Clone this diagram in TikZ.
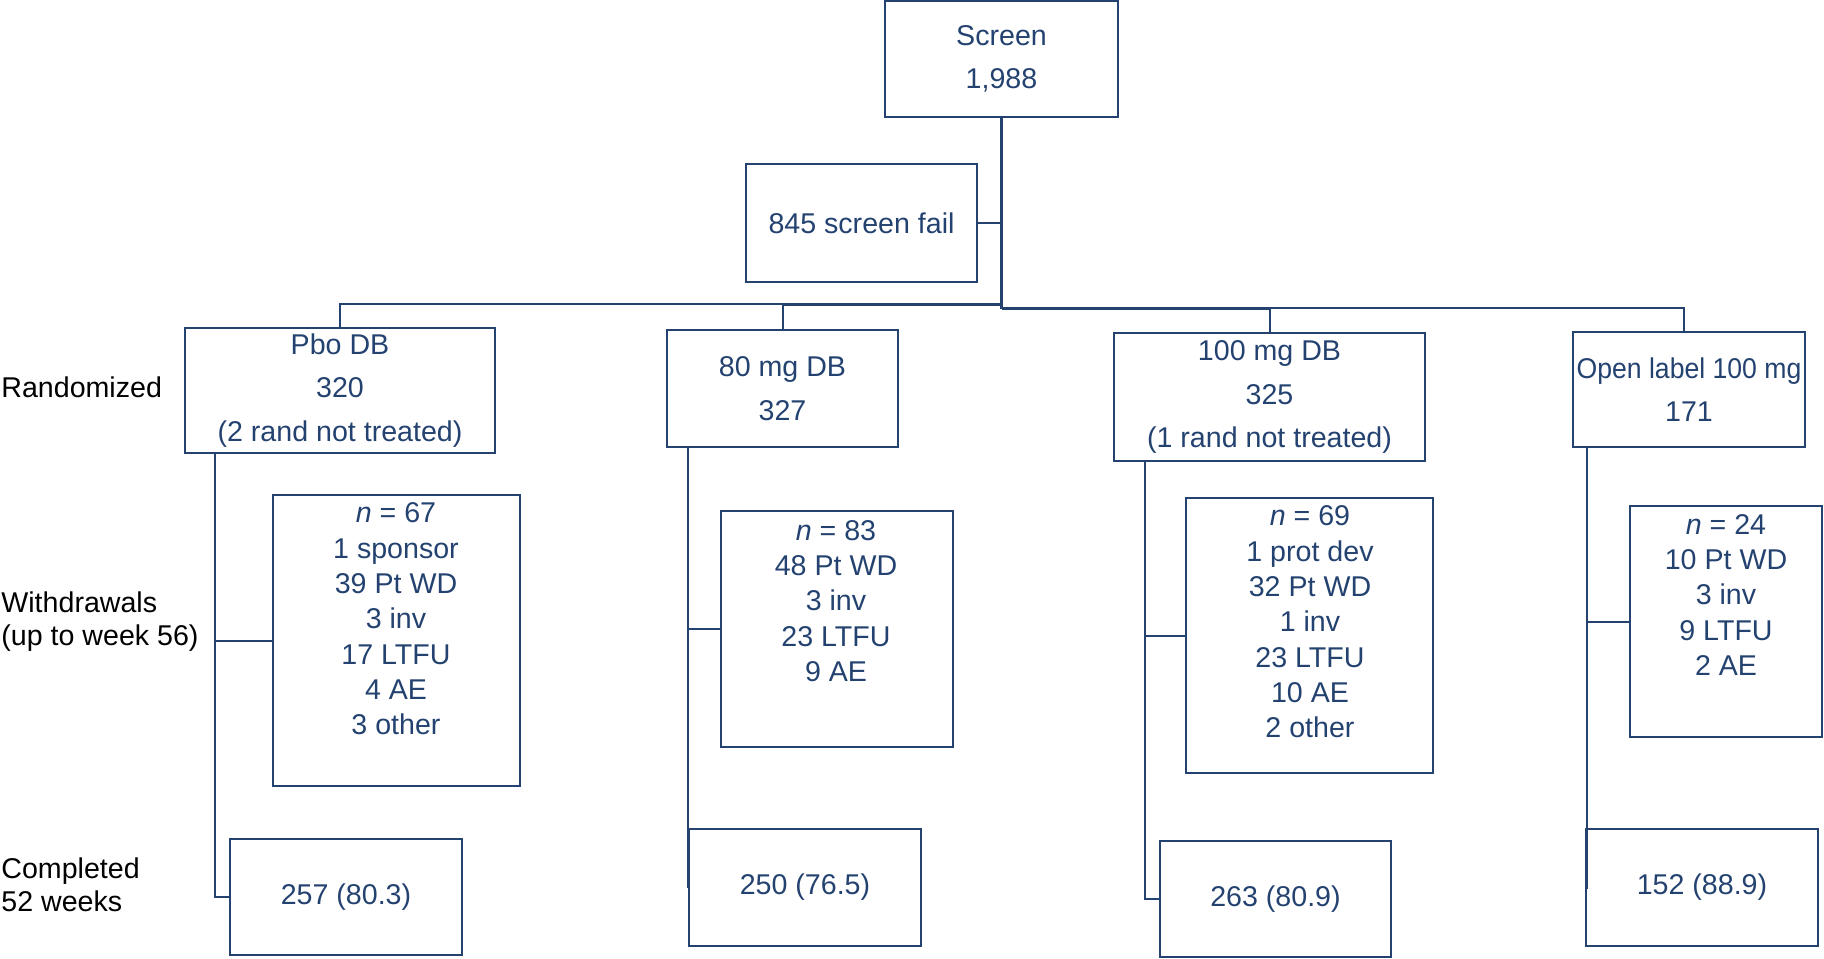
\documentclass[tikz,border=0pt]{standalone}
\usepackage{fontspec}
\setmainfont{Liberation Sans}
\usepackage{graphicx}
\usetikzlibrary{positioning,calc}
\definecolor{flowblue}{RGB}{36,66,112}

\begin{document}
\begin{tikzpicture}[x=0.5pt,y=-0.5pt,
  every node/.style={text=flowblue},
  box/.style 2 args={draw=flowblue,line width=1pt,inner sep=0pt,align=center,
    minimum width=#1,minimum height=#2,
    font=\fontsize{14.3}{21.7}\selectfont},
  wdtext/.style={align=center,inner sep=0pt,font=\fontsize{14.3}{17.65}\selectfont},
  side/.style={text=black,align=left,anchor=west,inner sep=0pt,
    font=\fontsize{14.3}{16.5}\selectfont},
  link/.style={draw=flowblue,line width=1pt},
  trunk/.style={draw=flowblue,line width=1.5pt}]
  \useasboundingbox (0,0) rectangle (1824,958);

  \node[box={116.5pt}{58pt}] (scr) at (1001.5,59) {Screen\\1,988};
  \node[box={115.5pt}{59pt}] (fail) at (861.5,223) {845 screen fail};

  \node[box={155pt}{62.5pt}] (pbo) at (340,390.5) {Pbo DB\\320\\(2 rand not treated)};
  \node[box={115.5pt}{58.5pt}] (m80) at (782.5,388.5) {80 mg DB\\327};
  \node[box={155.5pt}{64pt}] (m100) at (1269.5,397) {100 mg DB\\325\\(1 rand not treated)};
  \node[box={116pt}{57.5pt}] (ol) at (1689,389.5) {\scalebox{0.93}[1]{Open label 100 mg}\\171};

  \node[box={123.5pt}{145.5pt}] (pbow) at (396.5,640.5) {};
  \node[box={116pt}{118pt}] (m80w) at (837,629) {};
  \node[box={123.5pt}{137.5pt}] (m100w) at (1309.5,635.5) {};
  \node[box={96pt}{115.5pt}] (olw) at (1726,621.5) {};

  \node[wdtext] at (396,619) {\textit{n} = 67\\1 sponsor\\39 Pt WD\\3 inv\\17 LTFU\\4 AE\\3 other};
  \node[wdtext] at (836,601) {\textit{n} = 83\\48 Pt WD\\3 inv\\23 LTFU\\9 AE};
  \node[wdtext] at (1310,622) {\textit{n} = 69\\1 prot dev\\32 Pt WD\\1 inv\\23 LTFU\\10 AE\\2 other};
  \node[wdtext] at (1726,595) {\textit{n} = 24\\10 Pt WD\\3 inv\\9 LTFU\\2 AE};

  \node[box={116pt}{58pt}] (pbodone) at (346,897) {257 (80.3)};
  \node[box={116pt}{58.5pt}] (m80done) at (805,887.5) {250 (76.5)};
  \node[box={115.5pt}{58pt}] (m100done) at (1275.5,899) {263 (80.9)};
  \node[box={116pt}{58.5pt}] (oldone) at (1702,887.5) {152 (88.9)};

  \node[side] (rand) at (1,387) {Randomized};
  \node[side] (wd) at (1,622) {Withdrawals\\(up to week 56)};
  \node[side] (compl) at (1,885) {Completed\\52 weeks};

  \coordinate (hubl) at (1001.5,304);
  \coordinate (hubr) at (1001.5,308);
  \draw[trunk] (scr.south) -- ([yshift=-0.5pt]hubr);
  \draw[link] (fail.east) -- (fail.east -| hubl);
  \draw[link] (pbo.north) |- (m80.north |- hubl);
  \draw[trunk] (m80.north |- hubl) -- (hubl);
  \draw[trunk] (hubr) -- (m100.north |- hubr);
  \draw[link] (m100.north |- hubr) -| ([xshift=-2.5pt]ol.north);
  \draw[link] (m80.north) -- (m80.north |- hubl);
  \draw[link] (m100.north) -- (m100.north |- hubr);

  \coordinate (pbotap) at ($(pbo.south west)+(31,0)$);
  \coordinate (m80tap) at ($(m80.south west)+(22,0)$);
  \coordinate (m100tap) at ($(m100.south west)+(32,0)$);
  \coordinate (oltap) at ($(ol.south west)+(15,0)$);
  \draw[link] (pbotap) |- (pbodone.west);
  \draw[link] (m80tap) |- (m80done.west);
  \draw[link] (m100tap) |- (m100done.west);
  \draw[link] (oltap) |- (oldone.west);
  \draw[link] (pbow.west) -- (pbow.west -| pbotap);
  \draw[link] (m80w.west) -- (m80w.west -| m80tap);
  \draw[link] (m100w.west) -- (m100w.west -| m100tap);
  \draw[link] (olw.west) -- (olw.west -| oltap);
\end{tikzpicture}
\end{document}
